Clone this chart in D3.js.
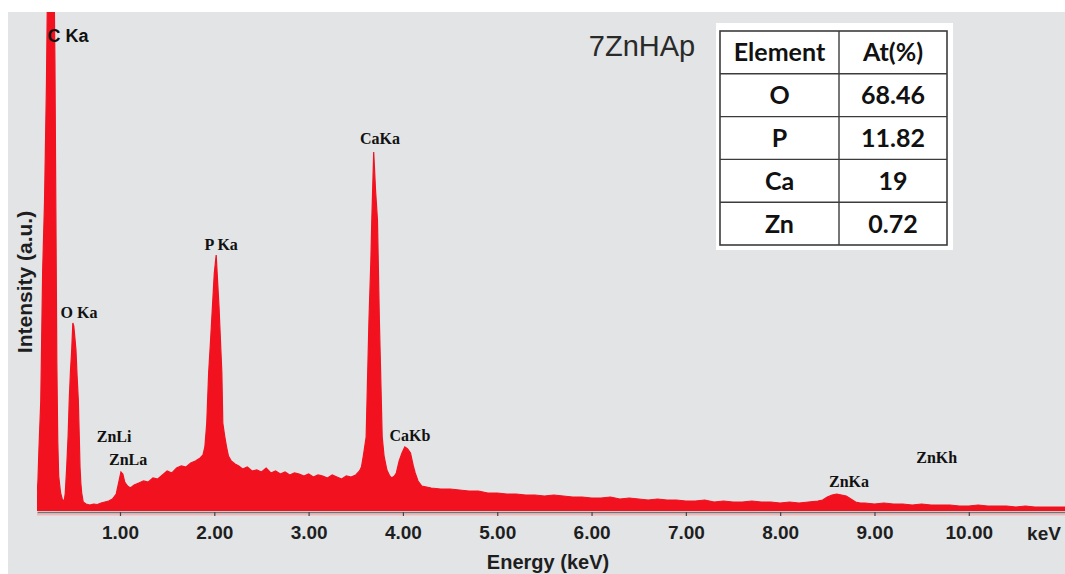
<!DOCTYPE html>
<html>
<head>
<meta charset="utf-8">
<script src="https://cdn.jsdelivr.net/npm/d3@7/dist/d3.min.js"></script>
<style>
  html, body { margin: 0; padding: 0; background: #ffffff; }
  svg { display: block; }
</style>
</head>
<body>
<svg id="chart" width="1065" height="574"></svg>
<script>
// ---- Data ----
const energyKeV = [
  0.12, 0.13, 0.14, 0.16, 0.17, 0.18, 0.20, 0.22, 0.24, 0.26, 0.29, 0.31, 0.32, 0.33, 0.34, 0.35, 0.37, 0.39,
  0.41, 0.42, 0.435, 0.45, 0.462, 0.475, 0.488, 0.50, 0.51, 0.52, 0.533, 0.545, 0.558, 0.568, 0.576, 0.585, 0.594, 0.61, 0.64,
  0.68, 0.72, 0.76, 0.80, 0.84, 0.88, 0.92, 0.96, 0.99, 1.01, 1.03, 1.05, 1.08, 1.11, 1.15, 1.20, 1.25, 1.30, 1.35, 1.40,
  1.45, 1.50, 1.55, 1.60, 1.65, 1.70, 1.75, 1.80, 1.85,
  1.88, 1.90, 1.92, 1.94, 1.96, 1.98, 2.00, 2.02, 2.03, 2.05, 2.07, 2.08, 2.09, 2.11, 2.13, 2.15, 2.18, 2.22,
  2.26, 2.30, 2.35, 2.40, 2.45, 2.50, 2.55, 2.60, 2.65, 2.70, 2.75, 2.80, 2.85, 2.90, 2.95, 3.00, 3.05, 3.10, 3.15,
  3.20, 3.25, 3.30, 3.35, 3.40, 3.45, 3.50, 3.54,
  3.56, 3.58, 3.61, 3.64, 3.66, 3.67, 3.69, 3.71, 3.73, 3.75, 3.78, 3.80, 3.83, 3.86, 3.88, 3.91, 3.93, 3.96, 3.99,
  4.02, 4.05, 4.08, 4.11, 4.13, 4.16,
  4.20, 4.30, 4.40, 4.50, 4.60, 4.70, 4.80, 4.90, 5.00, 5.10, 5.20, 5.30, 5.40, 5.50, 5.60, 5.70, 5.80, 5.90, 6.00,
  6.10, 6.20, 6.30, 6.40, 6.50, 6.60, 6.70, 6.80, 6.90, 7.00, 7.10, 7.20, 7.30, 7.40, 7.50, 7.60, 7.70, 7.80, 7.90,
  8.00, 8.10, 8.20, 8.30, 8.40,
  8.45, 8.50, 8.55, 8.60, 8.65, 8.70, 8.75, 8.80, 8.85,
  8.90, 9.00, 9.10, 9.20, 9.30, 9.40, 9.50, 9.60, 9.70, 9.80, 9.90, 10.00, 10.10, 10.20, 10.30, 10.40, 10.50,
  10.60, 10.70, 10.80, 10.90, 11.00, 11.02
];
const intensity = [
  30, 60, 120, 220, 350, 480, 620, 850, 1200, 1320, 1250, 900, 600, 300, 140, 70, 36, 22,
  22, 36, 88, 150, 222, 280, 322, 376, 370, 350, 322, 270, 222, 150, 88, 55, 36, 18, 14,
  12, 14, 13, 16, 18, 20, 24, 34, 60, 78, 74, 58, 50, 46, 52, 56, 60, 58, 66, 64,
  72, 80, 76, 86, 90, 88, 96, 100, 106,
  112, 128, 176, 276, 340, 408, 476, 512, 476, 408, 320, 276, 176, 150, 128, 110, 100, 94,
  90, 84, 88, 80, 82, 78, 86, 76, 80, 74, 78, 72, 76, 74, 70, 74, 68, 72, 70,
  66, 72, 68, 64, 70, 68, 72, 80,
  88, 110, 148, 382, 500, 582, 718, 640, 582, 382, 148, 110, 82, 70, 66, 70, 76, 100, 116,
  128, 124, 116, 90, 76, 60,
  50, 46, 44, 44, 42, 40, 40, 36, 36, 34, 34, 32, 32, 30, 32, 30, 28, 28, 26,
  26, 28, 24, 26, 24, 22, 24, 22, 22, 20, 20, 22, 18, 20, 18, 18, 20, 18, 18,
  16, 18, 16, 18, 20,
  22, 28, 32, 34, 32, 30, 24, 18, 16,
  16, 14, 16, 14, 14, 12, 14, 12, 12, 12, 10, 10, 12, 10, 10, 10, 8,
  10, 8, 8, 8, 8, 8
];
const tickValues = [1, 2, 3, 4, 5, 6, 7, 8, 9, 10];
const peakNames = ["C Ka", "O Ka", "ZnLi", "ZnLa", "P Ka", "CaKa", "CaKb", "ZnKa", "ZnKh"];
const peakLabelEnergies = [0.45, 0.565, 0.938, 1.086, 2.073, 3.757, 4.075, 8.73, 9.66];
const peakLabelCounts = [938, 386, 138, 92, 522, 734, 140, 48, 96];
const sampleName = "7ZnHAp";
const tableHeader = ["Element", "At(%)"];
const tableElements = ["O", "P", "Ca", "Zn"];
const tableAtPercent = ["68.46", "11.82", "19", "0.72"];

// ---- Layout ----
const svg = d3.select("#chart");
const W = 1065, H = 574;
const plotLeft = 37, plotRight = 1065, plotTop = 12, plotBottom = 511;

svg.append("rect").attr("x", 8).attr("y", 12).attr("width", W - 8).attr("height", H - 12)
  .attr("fill", "#e2e4e6");

const x = d3.scaleLinear().domain([0.12, 11.02]).range([plotLeft, plotRight]);
const y = d3.scaleLinear().domain([0, 1000]).range([plotBottom, 11]);

svg.append("defs").append("clipPath").attr("id", "plotclip")
  .append("rect").attr("x", plotLeft).attr("y", plotTop)
  .attr("width", plotRight - plotLeft).attr("height", plotBottom - plotTop);

const spectrum = energyKeV.map((e, i) => ({ e, v: intensity[i] }));

const area = d3.area()
  .x(d => x(d.e))
  .y0(y(0))
  .y1(d => y(d.v));

const g = svg.append("g").attr("clip-path", "url(#plotclip)");
g.append("path").datum(spectrum)
  .attr("d", area)
  .attr("fill", "#f2121f")
  .attr("stroke", "#f2121f")
  .attr("stroke-width", 1.2);

// ---- X axis ----
svg.append("line").attr("x1", plotLeft).attr("x2", plotRight)
  .attr("y1", 514.5).attr("y2", 514.5).attr("stroke", "#f3b5b9").attr("stroke-width", 2);

const xAxis = d3.axisBottom(x).tickValues(tickValues).tickFormat(d3.format(".2f"))
  .tickSize(4).tickSizeOuter(0);
const ax = svg.append("g").attr("transform", "translate(0,512)").call(xAxis);
ax.select(".domain").attr("stroke", "#6f7474").attr("stroke-width", 1.5);
ax.selectAll(".tick line").attr("stroke", "#444").attr("stroke-width", 1.2);
ax.selectAll(".tick text")
  .attr("y", 14)
  .attr("dy", "0.71em")
  .attr("fill", "#1e1e1e")
  .style("font-family", "'Liberation Sans', Arial, sans-serif")
  .style("font-weight", "bold")
  .style("font-size", "19px");

svg.append("text").attr("x", 1044).attr("y", 540).attr("text-anchor", "middle")
  .attr("fill", "#1e1e1e")
  .style("font-family", "'Liberation Sans', Arial, sans-serif")
  .style("font-weight", "bold").style("font-size", "19px").text("keV");

svg.append("text").attr("x", 548).attr("y", 569).attr("text-anchor", "middle")
  .attr("fill", "#1e1e1e")
  .style("font-family", "'Liberation Sans', Arial, sans-serif")
  .style("font-weight", "bold").style("font-size", "20px").text("Energy (keV)");

svg.append("text")
  .attr("transform", "translate(32,282) rotate(-90)")
  .attr("text-anchor", "middle")
  .attr("fill", "#1e1e1e")
  .style("font-family", "'Liberation Sans', Arial, sans-serif")
  .style("font-weight", "bold").style("font-size", "21px").text("Intensity (a.u.)");

// ---- Peak labels ----
const labelGroup = svg.append("g");
peakNames.forEach((name, i) => {
  const isC = i === 0;
  labelGroup.append("text")
    .attr("x", x(peakLabelEnergies[i]))
    .attr("y", y(peakLabelCounts[i]))
    .attr("text-anchor", "middle")
    .attr("fill", "#111")
    .style("font-family", isC ? "'Liberation Sans', Arial, sans-serif" : "'Liberation Serif', 'Times New Roman', serif")
    .style("font-weight", "bold")
    .style("font-size", isC ? "18px" : "16px")
    .text(name);
});

// ---- Sample name ----
svg.append("text").attr("x", 642).attr("y", 56).attr("text-anchor", "middle")
  .attr("fill", "#2a2a2a")
  .style("font-family", "'Liberation Sans', Arial, sans-serif")
  .style("font-size", "29px").text(sampleName);

// ---- Composition table ----
const tX0 = 720, tX1 = 839, tX2 = 947, tY0 = 31, rowH = 42.8;
svg.append("rect").attr("x", 716).attr("y", 23).attr("width", 237).attr("height", 227)
  .attr("fill", "#ffffff");
const nRows = tableElements.length + 1;
const tg = svg.append("g");
tg.append("rect").attr("x", tX0).attr("y", tY0).attr("width", tX2 - tX0).attr("height", rowH * nRows)
  .attr("fill", "none").attr("stroke", "#3c3c3c").attr("stroke-width", 1.6);
tg.append("line").attr("x1", tX1).attr("x2", tX1).attr("y1", tY0).attr("y2", tY0 + rowH * nRows)
  .attr("stroke", "#3c3c3c").attr("stroke-width", 1.4);
for (let r = 1; r < nRows; r++) {
  tg.append("line").attr("x1", tX0).attr("x2", tX2)
    .attr("y1", tY0 + rowH * r).attr("y2", tY0 + rowH * r)
    .attr("stroke", "#3c3c3c").attr("stroke-width", 1.4);
}
const rows = [tableHeader].concat(tableElements.map((el, i) => [el, tableAtPercent[i]]));
rows.forEach((row, r) => {
  row.forEach((cell, c) => {
    tg.append("text")
      .attr("x", c === 0 ? (tX0 + tX1) / 2 : (tX1 + tX2) / 2)
      .attr("y", tY0 + rowH * r + rowH / 2)
      .attr("dy", "0.36em")
      .attr("text-anchor", "middle")
      .attr("fill", "#111")
      .style("font-family", "Lato, 'Open Sans', sans-serif")
      .style("font-weight", "bold")
      .style("font-size", "25px")
      .text(cell);
  });
});
</script>
</body>
</html>
